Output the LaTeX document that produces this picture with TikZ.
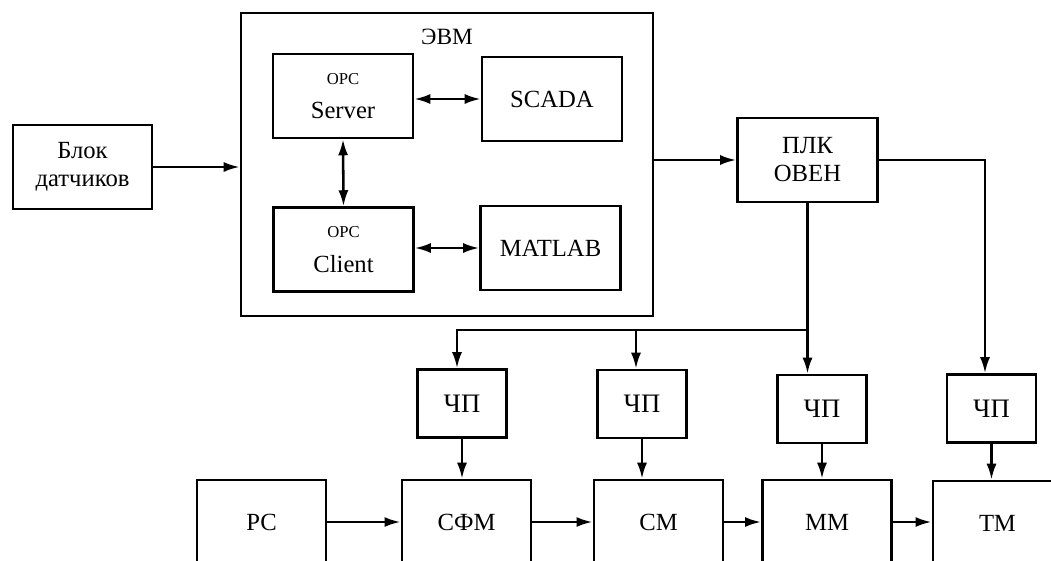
\documentclass[tikz,border=0pt]{standalone}
\usepackage{fontspec}
\setmainfont{Liberation Serif}
\usetikzlibrary{arrows.meta,positioning,calc}

\begin{document}
\begin{tikzpicture}[x=0.75pt,y=-0.75pt,
    blk/.style={rectangle, draw, line width=1.9pt, minimum width=105pt, minimum height=63pt, align=center, inner sep=0pt, font=\fontsize{18.5}{21}\selectfont},
    cpbox/.style={blk, minimum width=67pt, minimum height=51pt, font=\fontsize{20}{21}\selectfont},
    plant/.style={blk, minimum width=97pt, minimum height=63pt},
    conn/.style={line width=1.9pt, -{Latex[length=12pt,width=7.5pt]}},
    bconn/.style={line width=1.9pt, {Latex[length=12pt,width=7.5pt]}-{Latex[length=12pt,width=7.5pt]}}
  ]
    \useasboundingbox (0,0) rectangle (1051,561);
    % computer and its parts
    \node[blk, minimum width=309pt, minimum height=227pt] (evm) at (447,164.5) {};
    \node[font=\fontsize{17.5}{20}\selectfont] (evmt) at (447,37) {ЭВМ};
    \node[blk] (srv) at (343,96) {{\fontsize{12.5}{12}\selectfont OPC}\\[5pt]Server};
    \node[blk] (scada) at (552,99) {SCADA};
    \node[blk] (cli) at (343.5,249.5) {{\fontsize{12.5}{12}\selectfont OPC}\\[5pt]Client};
    \node[blk] (mat) at (550.5,248) {MATLAB};
    \node[blk, minimum width=104pt] (sens) at (82.5,167) {Блок\\датчиков};
    \node[blk] (plc) at (807.5,160) {ПЛК\\ОВЕН};
    % frequency converters
    \node[cpbox] (cp1) at (462,403.5) {ЧП};
    \node[cpbox] (cp2) at (642,404) {ЧП};
    \node[cpbox] (cp3) at (822,409) {ЧП};
    \node[cpbox] (cp4) at (991.5,408.5) {ЧП};
    % plant
    \node[plant] (rs) at (261.5,522) {РС};
    \node[plant] (sfm) at (466.5,522) {СФМ};
    \node[plant] (sm) at (658.5,522) {СМ};
    \node[plant] (mm) at (827,522) {ММ};
    \node[plant] (tm) at (997.5,523) {ТМ};

    \coordinate (j0) at (807,330);
    \coordinate (j1) at (457,330);
    \coordinate (j2) at (636,330);
    \coordinate (j4) at (985,160);

    \draw[conn] (sens.east) -- (sens.east -| evm.west);
    \draw[bconn] (srv.east |- scada.west) -- (scada.west);
    \draw[bconn] (mat.west -| cli.east) -- (mat.west);
    \draw[bconn] (srv.south) -- (cli.north);
    \draw[conn] (evm.east |- plc.west) -- (plc.west);
    \draw[conn] (plc.east) -- (j4) -- (j4 |- cp4.north);
    \draw[conn] (plc.south) -- (plc.south |- cp3.north);
    \draw[conn] (j0) -- (j1) -- (j1 |- cp1.north);
    \draw[conn] (j2) -- (j2 |- cp2.north);
    \draw[conn] (cp1.south) -- (cp1.south |- sfm.north);
    \draw[conn] (cp2.south) -- (cp2.south |- sm.north);
    \draw[conn] (cp3.south) -- (cp3.south |- mm.north);
    \draw[conn] (cp4.south) -- (cp4.south |- tm.north);
    \draw[conn] (rs.east) -- (sfm.west);
    \draw[conn] (sfm.east) -- (sm.west);
    \draw[conn] (sm.east) -- (mm.west);
    \draw[conn] (mm.east) -- (mm.east -| tm.west);
  \end{tikzpicture}
\end{document}
